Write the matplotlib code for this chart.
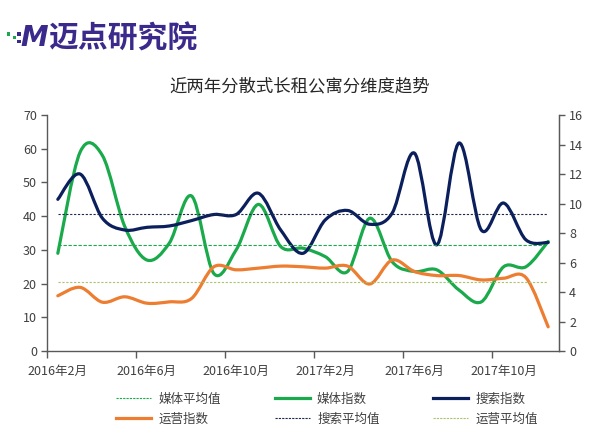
import matplotlib
matplotlib.use("Agg")
import matplotlib.pyplot as plt
from matplotlib.path import Path
from matplotlib.patches import PathPatch, Rectangle
from matplotlib.lines import Line2D
import numpy as np

plt.rcParams['font.family'] = ['Noto Sans CJK SC', 'DejaVu Sans']

# monthly categories, 2016-02 .. 2017-12
months = [f"{y}年{m}月" for y, m in
          [(2016, m) for m in range(2, 13)] + [(2017, m) for m in range(1, 13)]]

media_index = [29, 59, 58, 37, 27, 32, 46, 23, 30, 43.5, 31, 30.5,
               28, 23.6, 39.4, 26.5, 23.6, 24.1, 18.1, 14.6, 25, 25, 32.5]
search_index = [45, 52.5, 39.4, 35.9, 36.7, 37.1, 38.7, 40.5, 40.5, 46.8, 35.9, 29,
                38.9, 41.7, 37.6, 40.9, 58.7, 31.5, 61.7, 35.9, 43.9, 33, 32.2]
ops_index = [16.4, 18.9, 14.5, 16.1, 14.2, 14.6, 15.6, 25, 24.1, 24.6, 25.2, 25,
             24.6, 25.2, 19.9, 27, 23.6, 22.4, 22.4, 21.1, 21.6, 21.8, 7.2]
media_avg = 31.5
search_avg = 40.6
ops_avg = 20.4

GREEN = '#1aaa4b'
NAVY = '#0b1f5c'
ORANGE = '#ed7d31'
OLIVE = '#a9c46c'
PURPLE = '#3b2a8c'
GRAY = '#404040'


def smooth_path(xs, ys):
    # Excel-like smoothed line: Catmull-Rom converted to cubic Bezier
    p = np.column_stack([xs, ys]).astype(float)
    n = len(p)
    verts = [p[0]]
    codes = [Path.MOVETO]
    for i in range(n - 1):
        p0 = p[i - 1] if i > 0 else p[i]
        p3 = p[i + 2] if i + 2 < n else p[i + 1]
        c1 = p[i] + (p[i + 1] - p0) / 6.0
        c2 = p[i + 1] - (p3 - p[i]) / 6.0
        verts += [c1, c2, p[i + 1]]
        codes += [Path.CURVE4] * 3
    return Path(verts, codes)


fig = plt.figure(figsize=(6.0, 4.34), dpi=100)
ax = fig.add_axes([0.0778, 0.191, 0.8544, 0.544])
x = np.arange(len(months))

ax.set_xlim(-0.5, len(months) - 0.5)
ax.set_ylim(0, 70)

# average lines
ax.plot(x, [media_avg] * len(x), color=GREEN, lw=0.8, ls=(0, (3, 1.5)))
ax.plot(x, [search_avg] * len(x), color='#1f2a4a', lw=0.8, ls=(0, (2, 1.5)))
ax.plot(x, [ops_avg] * len(x), color=OLIVE, lw=0.8, ls=(0, (2, 1.5)))

for vals, col in [(media_index, GREEN), (search_index, NAVY), (ops_index, ORANGE)]:
    ax.add_patch(PathPatch(smooth_path(x, vals), fill=False, edgecolor=col,
                           lw=2.3, capstyle='round', joinstyle='round'))

ax.spines['top'].set_visible(False)
for s in ['left', 'right', 'bottom']:
    ax.spines[s].set_color('#595959')
    ax.spines[s].set_linewidth(1.0)

ax.set_yticks(range(0, 71, 10))
ax.tick_params(axis='y', colors=GRAY, labelsize=9, length=4, width=1, direction='out', pad=3)
ax.tick_params(axis='y', color='#595959')
ax.set_xticks(x[::4])
ax.set_xticklabels(months[::4])
ax.set_xticks(np.arange(-0.5, len(months), 4), minor=True)
ax.tick_params(axis='x', which='major', length=0, labelsize=9, colors=GRAY, pad=10)
ax.tick_params(axis='x', which='minor', length=5, width=1, color='#595959')

ax2 = ax.twinx()
ax2.set_ylim(0, 16)
ax2.set_yticks(range(0, 17, 2))
ax2.tick_params(axis='y', colors=GRAY, labelsize=9, length=4, width=1, pad=3)
ax2.tick_params(axis='y', color='#595959')
for s in ['top', 'left', 'bottom']:
    ax2.spines[s].set_visible(False)
ax2.spines['right'].set_color('#595959')

fig.text(0.5, 0.80, '近两年分散式长租公寓分维度趋势', ha='center', va='center',
         fontsize=12.5, color='#262626')

# legend (column-major order to match the reference rows)
h = [Line2D([], [], color=GREEN, lw=0.8, ls=(0, (2, 1))),
     Line2D([], [], color=ORANGE, lw=2.3),
     Line2D([], [], color=GREEN, lw=2.3),
     Line2D([], [], color='#1f2a4a', lw=0.8, ls=(0, (2, 1))),
     Line2D([], [], color=NAVY, lw=2.3),
     Line2D([], [], color=OLIVE, lw=0.8, ls=(0, (2, 1)))]
labels = ['媒体平均值', '运营指数', '媒体指数', '搜索平均值', '搜索指数', '运营平均值']
fig.legend(h, labels, ncol=3, loc='center', bbox_to_anchor=(0.545, 0.0576),
           frameon=False, fontsize=9, handlelength=2.8, handletextpad=0.6,
           columnspacing=4.3, labelspacing=0.55, labelcolor=GRAY)

# logo
fig.text(0.034, 0.912, 'M', fontsize=20, fontweight='bold', style='italic',
         color=PURPLE, ha='left', va='center', family='DejaVu Sans')
fig.text(0.08, 0.912, '迈点研究院', fontsize=21.5, fontweight='bold',
         color=PURPLE, ha='left', va='center')
for (sx, sy, c) in [(0.011, 0.918, GREEN), (0.021, 0.910, GREEN),
                    (0.029, 0.918, PURPLE), (0.029, 0.900, PURPLE)]:
    fig.add_artist(Rectangle((sx, sy), 0.006, 0.008, transform=fig.transFigure,
                             color=c, lw=0))

fig.savefig('out.png', dpi=100)
